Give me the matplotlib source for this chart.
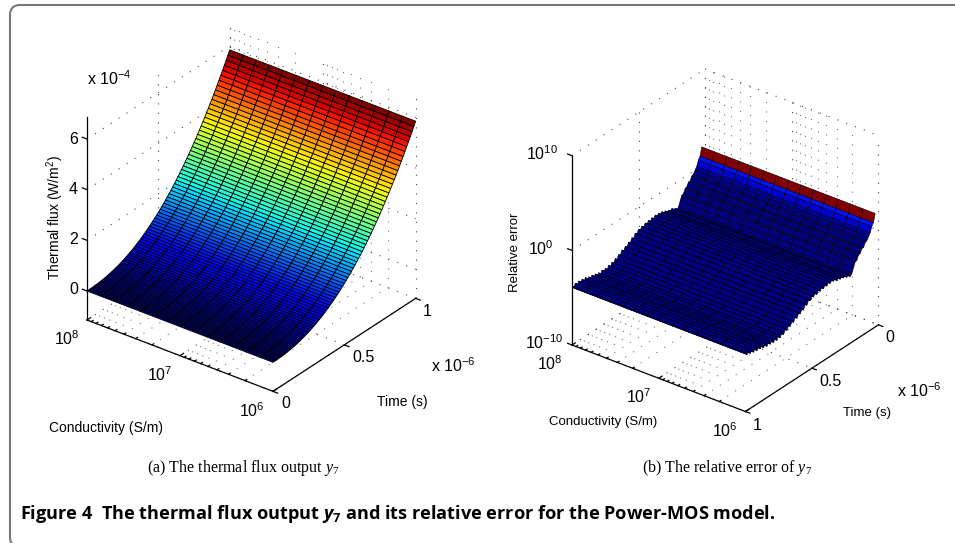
"""Thermal flux output and relative error surfaces for the Power-MOS model."""

import matplotlib
matplotlib.use("Agg")
import matplotlib.pyplot as plt
import numpy as np
from matplotlib.patches import PathPatch
from matplotlib.path import Path
from mpl_toolkits.mplot3d import proj3d
from mpl_toolkits.mplot3d.art3d import Poly3DCollection

W, H = 955, 543

# log10 of the conductivity at each mesh column
cond_exp = [6.0, 6.143, 6.286, 6.429, 6.571, 6.714, 6.857, 7.0,
            7.143, 7.286, 7.429, 7.571, 7.714, 7.857, 8.0]
# grid and tick positions on the conductivity axis
cond_major = [6.0, 7.0, 8.0]
cond_minor = [6.301, 6.477, 6.602, 6.699, 6.778, 6.845, 6.903, 6.954,
              7.301, 7.477, 7.602, 7.699, 7.778, 7.845, 7.903, 7.954]

# time mesh in units of 1e-6 s
time_us = [0.0, 0.0125, 0.025, 0.0375, 0.05, 0.0625, 0.075, 0.0875, 0.1,
           0.1125, 0.125, 0.1375, 0.15, 0.1625, 0.175, 0.1875, 0.2,
           0.2125, 0.225, 0.2375, 0.25, 0.2625, 0.275, 0.2875, 0.3,
           0.3125, 0.325, 0.3375, 0.35, 0.3625, 0.375, 0.3875, 0.4,
           0.4125, 0.425, 0.4375, 0.45, 0.4625, 0.475, 0.4875, 0.5,
           0.5125, 0.525, 0.5375, 0.55, 0.5625, 0.575, 0.5875, 0.6,
           0.6125, 0.625, 0.6375, 0.65, 0.6625, 0.675, 0.6875, 0.7,
           0.7125, 0.725, 0.7375, 0.75, 0.7625, 0.775, 0.7875, 0.8,
           0.8125, 0.825, 0.8375, 0.85, 0.8625, 0.875, 0.8875, 0.9,
           0.9125, 0.925, 0.9375, 0.95, 0.9625, 0.975, 0.9875, 1.0]

# thermal flux in units of 1e-4 W/m2, read along the left edge of the surface
flux = [0.0, 0.0004, 0.0017, 0.0043, 0.008, 0.013, 0.0196, 0.0275, 0.037,
        0.048, 0.0603, 0.0745, 0.09, 0.1075, 0.1265, 0.147, 0.17,
        0.194, 0.22, 0.2477, 0.277, 0.309, 0.342, 0.377, 0.414,
        0.453, 0.493, 0.536, 0.581, 0.628, 0.676, 0.727, 0.779,
        0.834, 0.89, 0.949, 1.01, 1.073, 1.137, 1.205, 1.273,
        1.345, 1.417, 1.492, 1.571, 1.65, 1.733, 1.815, 1.90,
        1.99, 2.08, 2.175, 2.267, 2.365, 2.464, 2.566, 2.668,
        2.775, 2.884, 2.994, 3.107, 3.223, 3.34, 3.457, 3.58,
        3.704, 3.832, 3.96, 4.09, 4.223, 4.36, 4.50, 4.64,
        4.78, 4.93, 5.08, 5.225, 5.38, 5.53, 5.69, 5.85]

# log10 of the relative error, from the third time step on (zero flux at t=0)
error_exp = [2.0, 1.15, 0.85, 0.3, 0.0, -0.3, -0.4, -0.8, -0.8, -1.2,
             -1.25, -1.7, -1.75, -2.25, -2.75, -2.95, -2.65, -2.8, -2.45, -2.65,
             -2.4, -2.55, -2.25, -2.45, -2.1, -2.3, -2.05, -2.3, -2.0, -2.35,
             -2.05, -2.4, -2.1, -2.45, -2.15, -2.55, -2.25, -2.6, -2.35, -2.75,
             -2.55, -3.0, -2.8, -3.25, -3.05, -3.45, -3.25, -3.7, -3.4, -3.9,
             -3.65, -4.1, -3.85, -4.3, -4.0, -4.5, -4.1, -4.6, -4.2, -4.65,
             -4.15, -4.65, -4.2, -4.6, -4.1, -4.6, -4.0, -4.5, -3.95, -4.4,
             -3.8, -4.35, -3.75, -4.3, -3.7, -4.2, -3.7, -4.1, -3.75]

plt.rcParams["font.family"] = ["Liberation Sans", "DejaVu Sans"]
plt.rcParams["mathtext.fontset"] = "custom"
plt.rcParams["mathtext.default"] = "regular"
plt.rcParams["mathtext.it"] = "Liberation Serif:italic"
plt.rcParams["mathtext.sf"] = "Liberation Serif"
plt.rcParams["mathtext.bf"] = "Open Sans:bold"
plt.rcParams["mathtext.bfit"] = "Open Sans:italic:bold"

DOTS = (0, (1, 7.5))


def add_surface(ax, times, heights, values, vmax, linewidth):
    """Mesh with one flat colour per face, every column at the same height."""
    polys, colors = [], []
    cmap = plt.get_cmap("jet")
    for i in range(len(times) - 1):
        color = cmap(max(values[i], values[i + 1]) / vmax)
        for j in range(len(cond_exp) - 1):
            polys.append([
                (times[i], cond_exp[j], heights[i]),
                (times[i + 1], cond_exp[j], heights[i + 1]),
                (times[i + 1], cond_exp[j + 1], heights[i + 1]),
                (times[i], cond_exp[j + 1], heights[i]),
            ])
            colors.append(color)
    mesh = Poly3DCollection(polys, facecolors=colors, edgecolors="black",
                            linewidths=linewidth, zorder=2)
    ax.add_collection3d(mesh, autolim=False)


def add_box(ax, time_ticks, z_ticks):
    """MATLAB style box: dotted grid on the back walls, three axis lines."""
    t0, t1 = ax.get_xlim()
    z0, z1 = ax.get_zlim()
    grid = dict(color="#444444", linestyle=DOTS, linewidth=0.8, zorder=1)
    faint = dict(grid, color="#777777")
    line = dict(color="black", linewidth=0.9, zorder=3)

    for c in cond_major:
        ax.plot([t0, t1], [c, c], [z0, z0], **grid)
        ax.plot([t1, t1], [c, c], [z0, z1], **grid)
    for c in cond_minor:
        ax.plot([t0, t1], [c, c], [z0, z0], **faint)
        ax.plot([t1, t1], [c, c], [z0, z1], **faint)
    for t in time_ticks:
        ax.plot([t, t], [8, 6], [z0, z0], **grid)
        ax.plot([t, t], [8, 8], [z0, z1], **grid)
    for z in z_ticks:
        ax.plot([t0, t1], [8, 8], [z, z], **grid)
        ax.plot([t1, t1], [8, 6], [z, z], **grid)

    ax.plot([t0, t0], [8, 8], [z0, z1], **line)
    ax.plot([t0, t0], [8, 6], [z0, z0], **line)
    ax.plot([t0, t1], [6, 6], [z0, z0], **line)

    # tick stubs
    step = 0.025 * (t1 - t0)
    for c in cond_major:
        ax.plot([t0, t0 + step], [c, c], [z0, z0], **line)
    for c in cond_minor:
        ax.plot([t0, t0 + step / 2], [c, c], [z0, z0], **line)
    for t in time_ticks:
        ax.plot([t, t], [6, 5.95], [z0, z0], **line)
    for z in z_ticks:
        ax.plot([t0, t0], [8, 8.05], [z, z], **line)


def fit_cube(ax, corner_px, axis_height_px):
    """Move and scale the axes so the z axis lands on the given pixels."""
    size = 600.0
    ax.set_position([0, 0, size / W, size / H])
    ax.apply_aspect()
    t0 = ax.get_xlim()[0]
    z0, z1 = ax.get_zlim()
    xs, ys, _ = proj3d.proj_transform(np.array([t0, t0]), np.array([8.0, 8.0]),
                                      np.array([z0, z1]), ax.get_proj())
    pts = ax.transData.transform(np.column_stack([xs, ys]))
    scale = axis_height_px / (pts[1, 1] - pts[0, 1])
    left = corner_px[0] - pts[0, 0] * scale
    bottom = (H - corner_px[1]) - pts[0, 1] * scale
    new_size = size * scale
    ax.set_position([left / W, bottom / H, new_size / W, new_size / H])


def new_axes(fig, tlim, zlim):
    ax = fig.add_axes([0, 0, 0.5, 0.5], projection="3d", proj_type="ortho",
                      computed_zorder=False)
    ax.view_init(elev=30, azim=217.5)
    ax.set_box_aspect((1, 1, 1))
    ax.set_xlim(*tlim)
    ax.set_ylim(6, 8)
    ax.set_zlim(*zlim)
    ax.set_axis_off()
    ax.patch.set_alpha(0)
    return ax


fig = plt.figure(figsize=(W / 100, H / 100), dpi=100, facecolor="white")

# (a) thermal flux
ax1 = new_axes(fig, (0, 1), (-1.146, 6.87))
add_box(ax1, [0, 0.5, 1], [0, 2, 4, 6])
add_surface(ax1, time_us, flux, flux, max(flux), 0.6)
fit_cube(ax1, (87, 320), 203)

# (b) relative error, time axis runs the other way
error_times = time_us[2:]
ax2 = new_axes(fig, (1, 0), (-10, 10))
add_box(ax2, [0, 0.5, 1], [-10, 0, 10])
error_lin = [10.0 ** e for e in error_exp]
add_surface(ax2, error_times, error_exp, error_lin, max(error_lin), 0.4)
fit_cube(ax2, (572, 345), 189.3)

# overlay in pixel coordinates for the frame and all the text
top = fig.add_axes([0, 0, 1, 1], zorder=10)
top.set_xlim(0, W)
top.set_ylim(H, 0)
top.axis("off")
frame = Path([(W, 5), (20, 5), (10, 5), (10, 15), (10, 537), (10, 543), (14, 545)],
             [Path.MOVETO, Path.LINETO, Path.CURVE3, Path.CURVE3,
              Path.LINETO, Path.CURVE3, Path.CURVE3])
top.add_patch(PathPatch(frame, facecolor="none", edgecolor="#777777", linewidth=1.5))

LABEL = 10
TICK = 11.5
TICK_B = 11.5


def put(x, y, s, size=TICK, ha="center", va="center", **kw):
    top.text(x, y, s, fontsize=size, ha=ha, va=va, **kw)


# panel (a) text
put(87, 85, r"x $10^{-4}$", ha="left", va="baseline")
for y, s in [(139, "6"), (189, "4"), (240, "2"), (290, "0")]:
    put(78, y, s, ha="right")
put(80, 345, r"$10^{8}$", ha="right", va="baseline")
put(173, 381, r"$10^{7}$", ha="right", va="baseline")
put(265, 417, r"$10^{6}$", ha="right", va="baseline")
put(286, 404, "0")
put(363, 358, "0.5")
put(427, 312, "1")
put(431, 372, r"x $10^{-6}$", ha="left", va="baseline")
put(402, 402, "Time (s)", size=LABEL)
put(49, 428, "Conductivity (S/m)", size=LABEL, ha="left")
put(55, 217, r"Thermal flux (W/m$^{2}$)", size=LABEL, rotation=90)

# panel (b) text
put(558, 160, r"$10^{10}$", ha="right", va="baseline", size=TICK_B)
put(554, 255, r"$10^{0}$", ha="right", va="baseline", size=TICK_B)
put(563, 349, r"$10^{-10}$", ha="right", va="baseline", size=TICK_B)
put(563, 370, r"$10^{8}$", ha="right", va="baseline", size=TICK_B)
put(652, 403, r"$10^{7}$", ha="right", va="baseline", size=TICK_B)
put(738, 437, r"$10^{6}$", ha="right", va="baseline", size=TICK_B)
put(757, 425, "1", size=TICK_B)
put(830, 382, "0.5", size=TICK_B)
put(890, 337, "0", size=TICK_B)
put(897, 397, r"x $10^{-6}$", ha="left", va="baseline", size=TICK_B)
put(867, 413, "Time (s)", size=9.5)
put(603, 422, "Conductivity (S/m)", size=9.5)
put(515, 252, "Relative error", size=9.5, rotation=90)

# captions
caption = dict(size=11.5, family="Liberation Serif", ha="left")
put(147, 468, r"(a) The thermal flux output $\mathit{y}_{\mathsf{7}}$", **caption)
put(642, 468, r"(b) The relative error of $\mathit{y}_{\mathsf{7}}$", **caption)
put(20, 514, r"Figure 4  The thermal flux output $\mathbfit{y}_{\mathbf{7}}$"
    " and its relative error for the Power-MOS model.",
    size=13.1, family="Open Sans", weight="bold", ha="left")

fig.savefig("out.png", dpi=100)
plt.close(fig)
